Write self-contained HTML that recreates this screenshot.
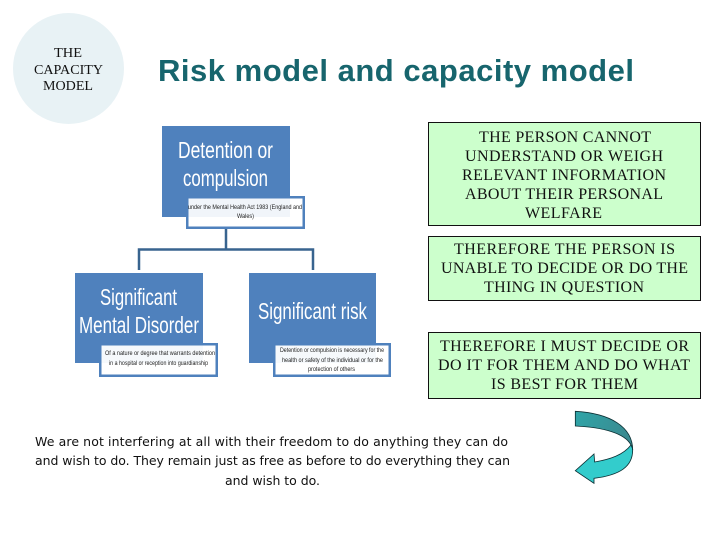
<!DOCTYPE html>
<html>
<head>
<meta charset="utf-8">
<style>
html,body{margin:0;padding:0;background:#fff;width:720px;height:540px;overflow:hidden}
svg{display:block}
.g{font-size:16px;font-family:"Liberation Serif",serif;fill:#111}
.c{font-size:14px;font-family:"Liberation Serif",serif;fill:#111}
.w{font-family:"Liberation Sans",sans-serif;fill:#fff}
.t{font-family:"Liberation Sans",sans-serif;font-size:6.2px;fill:#222}
.b{font-family:"DejaVu Sans","Liberation Sans",sans-serif;font-size:12.5px;fill:#111}
</style>
</head>
<body>
<svg width="720" height="540" viewBox="0 0 720 540" xmlns="http://www.w3.org/2000/svg">
<defs>
<linearGradient id="ag" x1="0" y1="0" x2="1" y2="0.3">
<stop offset="0" stop-color="#2fa5a8"/>
<stop offset="1" stop-color="#3a8a90"/>
</linearGradient>
<filter id="bl" x="-5%" y="-20%" width="110%" height="140%"><feGaussianBlur stdDeviation="0.35"/></filter>
</defs>
<rect width="720" height="540" fill="#fff"/>

<circle cx="68.5" cy="68.5" r="55.5" fill="#e8f2f5"/>
<text class="c" x="54" y="57" textLength="28" lengthAdjust="spacingAndGlyphs">THE</text>
<text class="c" x="34" y="74" textLength="69" lengthAdjust="spacingAndGlyphs">CAPACITY</text>
<text class="c" x="43" y="90" textLength="50" lengthAdjust="spacingAndGlyphs">MODEL</text>

<text x="158" y="81" textLength="476" lengthAdjust="spacing" font-family="'Liberation Sans',sans-serif" font-weight="700" font-size="31" fill="#17656d">Risk model and capacity model</text>

<!-- connectors -->
<path d="M226 229V249M139 270V249.500H313V270" fill="none" stroke="#38648f" stroke-width="2.500"/>

<!-- blue boxes -->
<rect x="162" y="126" width="128" height="91" fill="#4f81bd"/>
<rect x="75" y="273" width="128" height="90" fill="#4f81bd"/>
<rect x="249" y="273" width="127" height="90" fill="#4f81bd"/>

<g filter="url(#bl)">
<text class="w" x="178" y="158" font-size="23" textLength="95" lengthAdjust="spacingAndGlyphs">Detention or</text>
<text class="w" x="183" y="186" font-size="23" textLength="85" lengthAdjust="spacingAndGlyphs">compulsion</text>
<text class="w" x="100" y="305" font-size="23" textLength="77" lengthAdjust="spacingAndGlyphs">Significant</text>
<text class="w" x="79" y="333" font-size="23" textLength="120" lengthAdjust="spacingAndGlyphs">Mental Disorder</text>
<text class="w" x="258" y="319" font-size="23" textLength="109" lengthAdjust="spacingAndGlyphs">Significant risk</text>
</g>

<!-- small boxes -->
<rect x="187.250" y="197.250" width="116.500" height="30.500" fill="#fff" fill-opacity=".92" stroke="#4f81bd" stroke-width="2.500"/>
<rect x="100.250" y="344.250" width="116.500" height="31.500" fill="#fff" fill-opacity=".95" stroke="#4f81bd" stroke-width="2.500"/>
<rect x="274.250" y="344.250" width="115.500" height="31.500" fill="#fff" fill-opacity=".95" stroke="#4f81bd" stroke-width="2.500"/>

<g filter="url(#bl)">
<text class="t" x="188" y="209" textLength="114" lengthAdjust="spacingAndGlyphs">under the Mental Health Act 1983 (England and</text>
<text class="t" x="237" y="218" textLength="17" lengthAdjust="spacingAndGlyphs">Wales)</text>
<text class="t" x="105" y="355" textLength="110" lengthAdjust="spacingAndGlyphs">Of a nature or degree that warrants detention</text>
<text class="t" x="109" y="365" textLength="99" lengthAdjust="spacingAndGlyphs">in a hospital or reception into guardianship</text>
<text class="t" x="280" y="352" textLength="104" lengthAdjust="spacingAndGlyphs">Detention or compulsion is necessary for the</text>
<text class="t" x="282" y="362" textLength="101" lengthAdjust="spacingAndGlyphs">health or safety of the individual or for the</text>
<text class="t" x="308" y="371" textLength="47" lengthAdjust="spacingAndGlyphs">protection of others</text>
</g>

<!-- green boxes -->
<rect x="428.500" y="122.500" width="272" height="103" fill="#ccffcc" stroke="#111" stroke-width="1"/>
<rect x="428.500" y="236.500" width="272" height="64" fill="#ccffcc" stroke="#111" stroke-width="1"/>
<rect x="428.500" y="332.500" width="272" height="66" fill="#ccffcc" stroke="#111" stroke-width="1"/>

<text class="g" x="479" y="142" textLength="172" lengthAdjust="spacing">THE PERSON CANNOT</text>
<text class="g" x="465" y="161" textLength="198" lengthAdjust="spacing">UNDERSTAND OR WEIGH</text>
<text class="g" x="462" y="180" textLength="204" lengthAdjust="spacing">RELEVANT INFORMATION</text>
<text class="g" x="465" y="199" textLength="198" lengthAdjust="spacing">ABOUT THEIR PERSONAL</text>
<text class="g" x="525" y="218" textLength="77" lengthAdjust="spacing">WELFARE</text>
<text class="g" x="454" y="254" textLength="221" lengthAdjust="spacing">THEREFORE THE PERSON IS</text>
<text class="g" x="441" y="273" textLength="247" lengthAdjust="spacing">UNABLE TO DECIDE OR DO THE</text>
<text class="g" x="484" y="292" textLength="160" lengthAdjust="spacing">THING IN QUESTION</text>
<text class="g" x="440" y="351" textLength="249" lengthAdjust="spacing">THEREFORE I MUST DECIDE OR</text>
<text class="g" x="438" y="370" textLength="252" lengthAdjust="spacing">DO IT FOR THEM AND DO WHAT</text>
<text class="g" x="491" y="389" textLength="147" lengthAdjust="spacing">IS BEST FOR THEM</text>

<!-- bottom text -->
<text class="b" x="35" y="446" textLength="473" lengthAdjust="spacing">We are not interfering at all with their freedom to do anything they can do</text>
<text class="b" x="35" y="465" textLength="475" lengthAdjust="spacing">and wish to do. They remain just as free as before to do everything they can</text>
<text class="b" x="225" y="485" textLength="95" lengthAdjust="spacing">and wish to do.</text>

<!-- curved arrow -->
<g transform="translate(520,400) scale(0.33333)" stroke="#0b2f33" stroke-width="2.500" stroke-linejoin="miter">
<path d="M333 135C310 165 270 178 224 186L222 162L166 212L222 250L222 235C300 225 338 200 338 150C338 146 336 140 333 135Z" fill="#33cccc"/>
<path d="M166 34C270 40 338 80 338 150C338 146 336 140 333 135C315 100 250 82 166 78Z" fill="url(#ag)"/>
</g>
</svg>
</body>
</html>
